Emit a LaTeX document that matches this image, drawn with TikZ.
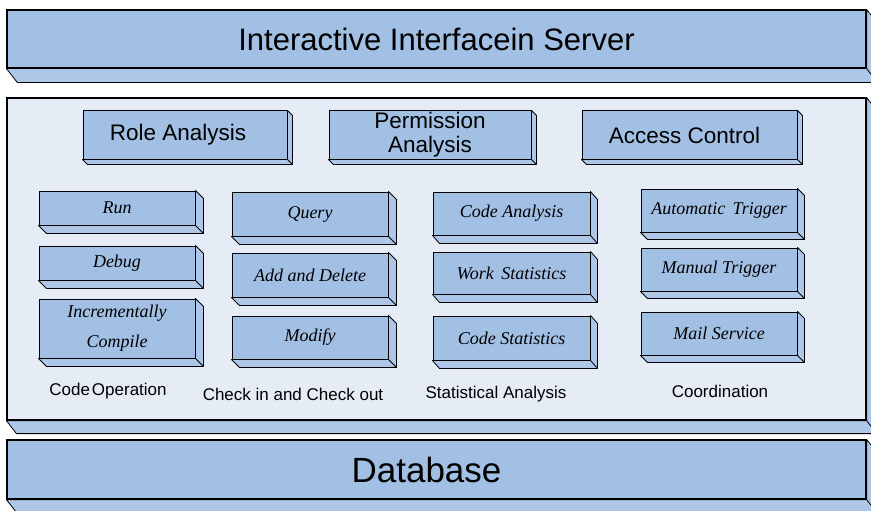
\documentclass[tikz,border=0pt]{standalone}
\usepackage{fontspec}
\setmainfont{Liberation Serif}
\setsansfont{Liberation Sans}
\usepackage{xcolor}
\definecolor{slabblue}{RGB}{162,191,228}
\definecolor{slabside}{RGB}{174,198,232}
\definecolor{panelgray}{RGB}{229,236,246}

\tikzset{
  layer/.style = {draw=black, line width=1.2pt, fill=slabblue, inner sep=0pt, minimum width=859pt, font=\sffamily},
  module/.style = {draw=black, line width=1pt, fill=slabblue, inner sep=0pt, align=center, minimum height=48pt, font=\sffamily\fontsize{22.5}{24}\selectfont},
  task/.style = {draw=black, line width=1pt, fill=slabblue, inner sep=0pt, align=center, minimum width=156pt, font=\itshape\fontsize{18}{30}\selectfont},
  group/.style = {font=\sffamily\fontsize{17}{20}\selectfont}
}

\begin{document}
\begin{tikzpicture}[x=1pt, y=-1pt]
	\clip (0,0) rectangle (871,511);
	\fill[white] (0,0) rectangle (871,511);
	% outer layers
	\node[layer, minimum height=58pt, font=\sffamily\fontsize{31}{32}\selectfont] (server) at (436.5,39) {Interactive Interfacein Server};
	\node[layer, fill=panelgray, minimum height=322pt] (panel) at (436.5,259) {};
	\node[layer, minimum height=59pt, font=\sffamily\fontsize{35}{36}\selectfont] (database) at (436.5,469.5) {Database\hspace*{20pt}};
	% modules
	\node[module, minimum width=204pt] (role) at (185,135) {Role Analysis\hspace*{14pt}};
	\node[module, minimum width=202pt] (perm) at (430,135) {Permission\\Analysis};
	\node[module, minimum width=215pt] (access) at (689.5,135) {Access Control\hspace*{10pt}};
	% code operation
	\node[task, minimum height=34pt] (run) at (117,208) {Run};
	\node[task, minimum height=34pt] (debug) at (117,263) {Debug};
	\node[task, minimum height=59pt] (compile) at (117,328.5) {Incrementally\\Compile};
	% check in and check out
	\node[task, minimum height=44pt] (query) at (310,214) {Query};
	\node[task, minimum height=44pt] (adddel) at (310,275) {Add and Delete};
	\node[task, minimum height=43pt] (modify) at (310,337.5) {Modify};
	% statistical analysis
	\node[task, minimum width=157pt, minimum height=43pt] (codeana) at (511.5,213.5) {Code Analysis};
	\node[task, minimum width=157pt, minimum height=42pt] (workstat) at (511.5,273) {Work\, Statistics};
	\node[task, minimum width=157pt, minimum height=44pt] (codestat) at (511.5,338) {Code Statistics};
	% coordination
	\node[task, minimum height=43pt] (auto) at (719,210.5) {Automatic\, Trigger};
	\node[task, minimum height=43pt] (manual) at (719,269.5) {Manual Trigger};
	\node[task, minimum height=43pt] (mail) at (719,333.5) {Mail Service};
	% group captions
	\node[group] (codeop) at (108,391) {Code\hspace{0.12em}Operation};
	\node[group] (checkio) at (293,394) {Check in and Check out};
	\node[group] (statana) at (496,394) {Statistical Analysis};
	\node[group] (coord) at (720,391) {Coordination};
	% depth faces
	\foreach \n/\dx/\dy in {server/11/14, panel/10/13, database/11/14,
	    role/5/5, perm/5/5, access/5/5,
	    run/8/8, debug/8/8, compile/8/8, query/8/8, adddel/8/8, modify/8/8,
	    codeana/7/8, workstat/7/8, codestat/7/8, auto/7/7, manual/7/7, mail/7/7}
	{
		\filldraw[fill=slabside, line width=0.8pt, line join=round]
		  (\n.south west) -- ++(\dx,\dy) -- ([shift={(\dx,\dy)}]\n.south east) -- (\n.south east) -- cycle
		  (\n.north east) -- ++(\dx,\dy) -- ([shift={(\dx,\dy)}]\n.south east) -- (\n.south east) -- cycle;
	}
\end{tikzpicture}
\end{document}
